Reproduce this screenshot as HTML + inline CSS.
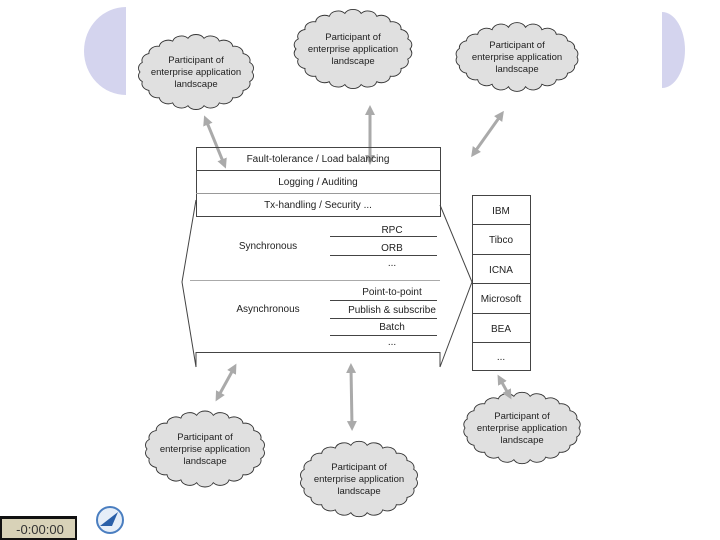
<!DOCTYPE html>
<html><head><meta charset="utf-8"><style>
html,body{margin:0;padding:0;background:#fff;width:720px;height:540px;overflow:hidden}
svg{display:block}
text{font-family:"Liberation Sans",sans-serif;fill:#222}
</style></head><body>
<svg id="s" width="720" height="540" viewBox="0 0 720 540">
<defs>
<marker id="ah" markerWidth="10" markerHeight="10" refX="5" refY="5" orient="auto-start-reverse" markerUnits="userSpaceOnUse" viewBox="0 0 10 10"><path d="M0,0 L10,5 L0,10 z" fill="#aaa"/></marker>
</defs>
<ellipse cx="126" cy="51" rx="42" ry="44" fill="#d4d4ee"/>
<ellipse cx="662" cy="50" rx="23" ry="38" fill="#d4d4ee"/>
<rect x="126" y="0" width="536" height="120" fill="#fff"/>
<g id="clouds"></g>
<g stroke="#aaa" stroke-width="3" marker-start="url(#ah)" marker-end="url(#ah)" fill="none">
<line x1="206" y1="120" x2="224" y2="164"/>
<line x1="370" y1="110" x2="370" y2="160"/>
<line x1="501" y1="115" x2="474" y2="153"/>
<line x1="234" y1="368" x2="218" y2="397"/>
<line x1="351" y1="368" x2="352" y2="426"/>
<line x1="500" y1="379" x2="509" y2="395"/>
</g>
<g stroke="#444" stroke-width="1" fill="none">
<rect x="196.5" y="147.5" width="244" height="69"/>
<line x1="196" y1="170.5" x2="440" y2="170.5"/>
<line x1="196" y1="193.5" x2="440" y2="193.5" stroke="#999"/>
<polyline points="196,200 182,282 196,367"/>
<polyline points="440,205 472,282 440,367"/>
<polyline points="196,367 196,352.5 440,352.5 440,367"/>
<line x1="190" y1="280.5" x2="440" y2="280.5" stroke="#aaa"/>
<line x1="330" y1="236.5" x2="437" y2="236.5"/>
<line x1="330" y1="255.5" x2="437" y2="255.5"/>
<line x1="330" y1="300.5" x2="437" y2="300.5"/>
<line x1="330" y1="318.5" x2="437" y2="318.5"/>
<line x1="330" y1="335.5" x2="437" y2="335.5"/>
<rect x="472.5" y="195.5" width="58" height="175"/>
<line x1="472" y1="224.5" x2="530" y2="224.5"/>
<line x1="472" y1="254.5" x2="530" y2="254.5"/>
<line x1="472" y1="283.5" x2="530" y2="283.5"/>
<line x1="472" y1="313.5" x2="530" y2="313.5"/>
<line x1="472" y1="342.5" x2="530" y2="342.5"/>
</g>
<g font-size="10" text-anchor="middle">
<text x="318" y="162">Fault-tolerance / Load balancing</text>
<text x="318" y="185">Logging / Auditing</text>
<text x="318" y="208">Tx-handling / Security ...</text>
<text x="268" y="249">Synchronous</text>
<text x="268" y="312">Asynchronous</text>
<text x="392" y="233">RPC</text>
<text x="392" y="251">ORB</text>
<text x="392" y="266">...</text>
<text x="392" y="295">Point-to-point</text>
<text x="392" y="313">Publish &amp; subscribe</text>
<text x="392" y="330">Batch</text>
<text x="392" y="345">...</text>
<text x="501" y="214">IBM</text>
<text x="501" y="243">Tibco</text>
<text x="501" y="273">ICNA</text>
<text x="501" y="302">Microsoft</text>
<text x="501" y="332">BEA</text>
<text x="501" y="360">...</text>
</g>
<g font-size="9.5" text-anchor="middle" id="ctext"></g>
<g>
<rect x="0" y="516" width="77" height="24" fill="#111"/>
<rect x="2" y="519" width="73" height="19" fill="#d8d2b8"/>
<text x="40" y="534" font-size="13" font-family="Liberation Mono" text-anchor="middle" style="fill:#333">-0:00:00</text>
<circle cx="110" cy="520" r="13" fill="#e6eef8" stroke="#4a7ec0" stroke-width="2"/>
<path d="M100,526 L118,512 L112,526 z" fill="#2a5fa8"/>
</g>
</svg>
<script>
var clouds=[[196,72,56,34],[353,49,57,36],[517,57,60,30],[205,449,58,34],[359,479,57,34],[522,428,57,32]];
var NS="http://www.w3.org/2000/svg";
var g=document.getElementById('clouds'),tg=document.getElementById('ctext');
clouds.forEach(function(c){
 var n=22,d="";
 for(var i=0;i<=n;i++){var a=i/n*2*Math.PI;var x=c[0]+c[2]*Math.cos(a),y=c[1]+c[3]*Math.sin(a);
  if(i==0)d+="M"+x.toFixed(1)+","+y.toFixed(1);else d+=" A9,7 0 0 1 "+x.toFixed(1)+","+y.toFixed(1);}
 var p=document.createElementNS(NS,'path');p.setAttribute('d',d+'z');p.setAttribute('fill','#e0e0e0');p.setAttribute('stroke','#333');p.setAttribute('stroke-width','0.9');g.appendChild(p);
 ["Participant of","enterprise application","landscape"].forEach(function(t,k){var e=document.createElementNS(NS,'text');e.setAttribute('x',c[0]);e.setAttribute('y',c[1]-9+k*12);e.textContent=t;tg.appendChild(e);});
});
</script>
</body></html>
